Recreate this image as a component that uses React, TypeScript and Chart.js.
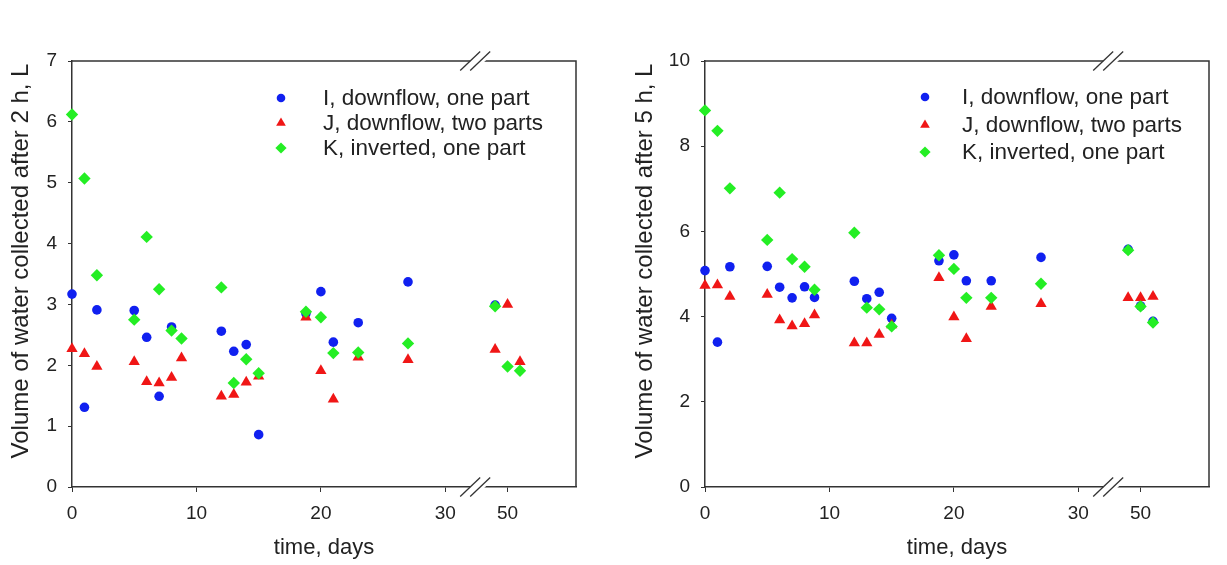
import React, { useEffect, useRef } from 'react';
import { Chart, registerables } from 'chart.js';

Chart.register(...registerables);

// ---------- data ----------
const DAYS = [0, 1, 2, 5, 6, 7, 8, 8.8, 12, 13, 14, 15, 18.8, 20, 21, 23, 27, 49, 50, 51];

const I_2H = [3.17, 1.31, 2.91, 2.9, 2.46, 1.49, 2.63, null, 2.56, 2.23, 2.34, 0.86, 2.85, 3.21, 2.38, 2.7, 3.37, 2.99, null, null];
const J_2H = [2.27, 2.19, 1.98, 2.06, 1.73, 1.71, 1.8, 2.12, 1.49, 1.52, 1.72, 1.82, 2.79, 1.91, 1.44, 2.13, 2.09, 2.26, 3.0, 2.06];
const K_2H = [6.12, 5.07, 3.48, 2.75, 4.11, 3.25, 2.57, 2.44, 3.28, 1.71, 2.1, 1.87, 2.88, 2.79, 2.2, 2.21, 2.36, 2.97, 1.98, 1.91];

const I_5H = [5.08, 3.4, 5.17, 5.18, 4.69, 4.44, 4.7, 4.45, 4.83, 4.42, 4.57, 3.96, 5.31, 5.45, 4.84, 4.84, 5.39, 5.58, 4.25, 3.89];
const J_5H = [4.73, 4.74, 4.47, 4.52, 3.92, 3.78, 3.83, 4.04, 3.38, 3.38, 3.58, 3.8, 4.91, 3.99, 3.48, 4.24, 4.3, 4.44, 4.44, 4.47];
const K_5H = [8.84, 8.36, 7.01, 5.8, 6.91, 5.35, 5.17, 4.63, 5.97, 4.21, 4.17, 3.77, 5.44, 5.12, 4.44, 4.44, 4.77, 5.56, 4.24, 3.86];

const SERIES_LABELS = ['I, downflow, one part', 'J, downflow, two parts', 'K, inverted, one part'];
const X_TICK_DAYS = [0, 10, 20, 30, 50];
const Y_TITLE_2H = 'Volume of water collected after 2 h, L';
const Y_TITLE_5H = 'Volume of water collected after 5 h, L';
const X_TITLE = 'time, days';

// axis break: days after the break are shifted left
const BREAK_AFTER = 40;
const BREAK_SHIFT = 15;
const BREAK_MARK_AT = 32.4;
const X_MAX = 40.5;

const mapDay = (d: number) => (d > BREAK_AFTER ? d - BREAK_SHIFT : d);

const COLORS = ['rgb(16,32,240)', 'rgb(240,22,22)', 'rgb(36,238,36)'];
const STYLES = ['circle', 'triangle', 'rectRot'];
const RADII = [4.8, 6.5, 6.2];
const LEGEND_RADII = [4.3, 5.6, 5.6];
const FONT = "'Liberation Sans', Arial, Helvetica, sans-serif";
const TEXT_COLOR = '#222';
const AXIS_COLOR = '#333';

type Geo = {
  left: number;
  width: number;
  yAxisWidth: number;
  padRight: number;
  legendMarkerX: number;
  legendTextX: number;
  legendRows: number[];
  yTitleX: number;
};

function drawMarker(ctx: CanvasRenderingContext2D, style: string, x: number, y: number, r: number) {
  ctx.beginPath();
  if (style === 'circle') {
    ctx.arc(x, y, r, 0, Math.PI * 2);
  } else if (style === 'triangle') {
    for (let i = 0; i < 3; i++) {
      const a = (i * 2 * Math.PI) / 3;
      const px = x + Math.sin(a) * r;
      const py = y - Math.cos(a) * r;
      if (i === 0) ctx.moveTo(px, py);
      else ctx.lineTo(px, py);
    }
  } else {
    ctx.moveTo(x - r, y);
    ctx.lineTo(x, y - r);
    ctx.lineTo(x + r, y);
    ctx.lineTo(x, y + r);
  }
  ctx.closePath();
  ctx.fill();
}

function Panel({ series, yMax, yStep, yTitle, geo }: { series: (number | null)[][]; yMax: number; yStep: number; yTitle: string; geo: Geo }) {
  const ref = useRef<HTMLCanvasElement | null>(null);

  useEffect(() => {
    const canvas = ref.current;
    if (!canvas) return;

    const decor = {
      id: 'decor',
      afterDraw(chart: any) {
        const ctx = chart.ctx as CanvasRenderingContext2D;
        const { left, right, top, bottom } = chart.chartArea;
        ctx.save();
        // frame top + right
        ctx.strokeStyle = AXIS_COLOR;
        ctx.lineWidth = 1.5;
        ctx.beginPath();
        ctx.moveTo(left, top);
        ctx.lineTo(right, top);
        ctx.lineTo(right, bottom);
        ctx.stroke();

        // axis breaks
        const bx = chart.scales.x.getPixelForValue(BREAK_MARK_AT);
        [top, bottom].forEach((y) => {
          ctx.fillStyle = '#fff';
          ctx.beginPath();
          ctx.moveTo(bx - 10, y + 9.5);
          ctx.lineTo(bx + 0, y + 9.5);
          ctx.lineTo(bx + 20, y - 9.5);
          ctx.lineTo(bx + 10, y - 9.5);
          ctx.closePath();
          ctx.fill();
          ctx.fillRect(bx - 5, y - 2, 10, 4);
          ctx.strokeStyle = AXIS_COLOR;
          ctx.lineWidth = 1.3;
          for (let i = 0; i < 2; i++) {
            ctx.beginPath();
            ctx.moveTo(bx - 15 + i * 10, y + 9.5);
            ctx.lineTo(bx + 5 + i * 10, y - 9.5);
            ctx.stroke();
          }
        });

        // legend
        ctx.font = `22.5px ${FONT}`;
        ctx.textBaseline = 'middle';
        ctx.textAlign = 'left';
        SERIES_LABELS.forEach((lab, i) => {
          const y = geo.legendRows[i];
          ctx.fillStyle = COLORS[i];
          drawMarker(ctx, STYLES[i], geo.legendMarkerX, y, LEGEND_RADII[i]);
          ctx.fillStyle = TEXT_COLOR;
          ctx.fillText(lab, geo.legendTextX, y + 1);
        });

        // x title
        ctx.font = `22px ${FONT}`;
        ctx.textAlign = 'center';
        ctx.fillText(X_TITLE, (left + right) / 2, 548);

        // y title
        ctx.font = `24px ${FONT}`;
        ctx.translate(geo.yTitleX, 261);
        ctx.rotate(-Math.PI / 2);
        ctx.fillText(yTitle, 0, 0);
        ctx.restore();
      },
    };

    const datasets = series.map((vals, i) => ({
      label: SERIES_LABELS[i],
      data: DAYS.map((d, k) => (vals[k] === null ? null : { x: mapDay(d), y: vals[k] as number })).filter((p) => p !== null),
      pointStyle: STYLES[i],
      pointRadius: RADII[i],
      pointHoverRadius: RADII[i],
      backgroundColor: COLORS[i],
      borderColor: COLORS[i],
      borderWidth: 0,
      showLine: false,
      clip: false,
      order: 2 - i,
    }));

    const chart = new Chart(canvas, {
      type: 'scatter',
      data: { datasets: datasets as any },
      options: {
        animation: false,
        responsive: false,
        maintainAspectRatio: false,
        events: [],
        layout: { padding: { top: 61, right: geo.padRight, left: 0, bottom: 0 } },
        plugins: { legend: { display: false }, tooltip: { enabled: false } },
        scales: {
          x: {
            type: 'linear',
            min: 0,
            max: X_MAX,
            grid: { drawOnChartArea: false, drawTicks: true, tickLength: 5, color: AXIS_COLOR, lineWidth: 1 },
            border: { display: true, color: AXIS_COLOR, width: 1.5 },
            ticks: {
              padding: 10,
              autoSkip: false,
              maxRotation: 0,
              color: TEXT_COLOR,
              font: { family: FONT, size: 19 },
              callback: (_v: any, idx: number) => String(X_TICK_DAYS[idx]),
            },
            afterBuildTicks: (scale: any) => {
              scale.ticks = X_TICK_DAYS.map((d) => ({ value: mapDay(d) }));
            },
            afterFit: (scale: any) => {
              scale.height = 78;
            },
          },
          y: {
            type: 'linear',
            min: 0,
            max: yMax,
            grid: { drawOnChartArea: false, drawTicks: true, tickLength: 4, color: AXIS_COLOR, lineWidth: 1 },
            border: { display: true, color: AXIS_COLOR, width: 1.5 },
            ticks: {
              stepSize: yStep,
              padding: 11,
              color: TEXT_COLOR,
              font: { family: FONT, size: 19 },
            },
            afterFit: (scale: any) => {
              scale.width = geo.yAxisWidth;
            },
          },
        },
      } as any,
      plugins: [decor],
    });
    return () => chart.destroy();
  }, [series, yMax, yStep, yTitle, geo]);

  return (
    <canvas
      ref={ref}
      width={geo.width}
      height={565}
      style={{ position: 'absolute', left: geo.left, top: 0, width: geo.width, height: 565 }}
    />
  );
}

const GEO_LEFT: Geo = {
  left: 0,
  width: 614,
  yAxisWidth: 72,
  padRight: 38,
  legendMarkerX: 281,
  legendTextX: 323,
  legendRows: [98, 123, 148],
  yTitleX: 21,
};

const GEO_RIGHT: Geo = {
  left: 614,
  width: 613,
  yAxisWidth: 91,
  padRight: 18,
  legendMarkerX: 311,
  legendTextX: 348,
  legendRows: [97, 125, 152],
  yTitleX: 31,
};

const SERIES_2H = [I_2H, J_2H, K_2H];
const SERIES_5H = [I_5H, J_5H, K_5H];

export default function App() {
  return (
    <div style={{ position: 'absolute', left: 0, top: 0, width: 1227, height: 565, background: '#fff', overflow: 'hidden' }}>
      <Panel series={SERIES_2H} yMax={7} yStep={1} yTitle={Y_TITLE_2H} geo={GEO_LEFT} />
      <Panel series={SERIES_5H} yMax={10} yStep={2} yTitle={Y_TITLE_5H} geo={GEO_RIGHT} />
    </div>
  );
}
